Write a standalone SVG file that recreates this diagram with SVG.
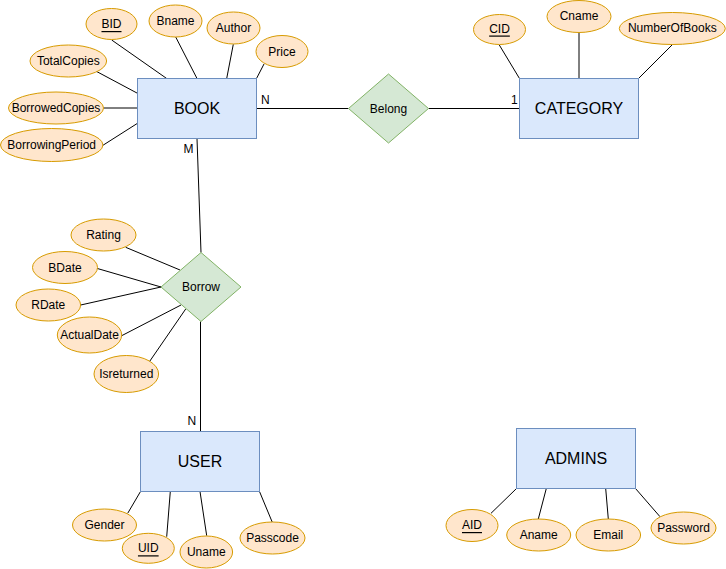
<svg xmlns="http://www.w3.org/2000/svg" width="726" height="569" viewBox="0 0 726 569">
<style>
.ent{fill:#dae8fc;stroke:#6c8ebf;stroke-width:1}
.att{fill:#ffe6cc;stroke:#d79b00;stroke-width:1}
.rel{fill:#d5e8d4;stroke:#82b366;stroke-width:1}
.t{font-family:"Liberation Sans",Arial,sans-serif;font-size:12px;fill:#000;text-anchor:middle;dominant-baseline:central}
.big{font-size:16px}
.u{text-decoration:underline}
.lbl{font-family:"Liberation Sans",Arial,sans-serif;font-size:12px;fill:#000}
#connectors line{stroke:#000;stroke-width:1}
</style>
<rect width="726" height="569" fill="#fff"/>
<g id="connectors">
<line x1="111.7" y1="40" x2="166.7" y2="78.5"/>
<line x1="175.7" y1="37" x2="197" y2="78.5"/>
<line x1="233.3" y1="44.3" x2="226.7" y2="78.5"/>
<line x1="264" y1="64" x2="256.5" y2="78.5"/>
<line x1="95.7" y1="71" x2="137.5" y2="93.3"/>
<line x1="103.5" y1="108" x2="137.5" y2="108"/>
<line x1="102.3" y1="145.7" x2="137.5" y2="123.3"/>
<line x1="256.5" y1="108.5" x2="348.5" y2="108.5"/>
<line x1="428.5" y1="108.5" x2="519.5" y2="108.5"/>
<line x1="499.3" y1="45" x2="519.5" y2="78.5"/>
<line x1="579" y1="32.5" x2="579" y2="78.5"/>
<line x1="672.7" y1="44.3" x2="638.5" y2="78.5"/>
<line x1="197" y1="138.5" x2="201" y2="252.5"/>
<line x1="125.7" y1="247.3" x2="180" y2="270"/>
<line x1="96.7" y1="268.3" x2="161" y2="287"/>
<line x1="80.7" y1="305" x2="161" y2="287"/>
<line x1="121.7" y1="335.7" x2="181" y2="305"/>
<line x1="149" y1="362.3" x2="185.7" y2="309"/>
<line x1="200.5" y1="321.5" x2="200.5" y2="431.5"/>
<line x1="127.7" y1="513.3" x2="140.5" y2="491.5"/>
<line x1="166.7" y1="536.7" x2="170.3" y2="491.5"/>
<line x1="206.7" y1="535.7" x2="200" y2="491.5"/>
<line x1="272.3" y1="522.3" x2="259.5" y2="491.5"/>
<line x1="491" y1="513.3" x2="516.5" y2="488.5"/>
<line x1="538.3" y1="519" x2="546.3" y2="488.5"/>
<line x1="608.3" y1="519" x2="605.7" y2="488.5"/>
<line x1="660" y1="516.7" x2="635.5" y2="488.5"/>
<text class="lbl" x="261" y="103.5">N</text>
<text class="lbl" x="183.5" y="152.5">M</text>
<text class="lbl" x="511" y="103.5">1</text>
<text class="lbl" x="187.5" y="425">N</text>
</g>
<g id="book"><rect class="ent" x="137.5" y="78.5" width="119" height="60"/><text class="t big" x="197" y="108.5">BOOK</text></g>
<g id="category"><rect class="ent" x="519.5" y="78.5" width="119" height="60"/><text class="t big" x="579" y="108.5">CATEGORY</text></g>
<g id="user"><rect class="ent" x="140.5" y="431.5" width="119" height="60"/><text class="t big" x="200" y="461.5">USER</text></g>
<g id="admins"><rect class="ent" x="516.5" y="428.5" width="119" height="60"/><text class="t big" x="576" y="458.5">ADMINS</text></g>
<g id="belong"><polygon class="rel" points="388.5,74 428.5,108.5 388.5,143 348.5,108.5"/><text class="t" x="388.5" y="108.5">Belong</text></g>
<g id="borrow"><polygon class="rel" points="201,252.5 241,287 201,321.5 161,287"/><text class="t" x="201" y="287">Borrow</text></g>
<g id="bid"><ellipse class="att" cx="111.5" cy="24" rx="25.5" ry="15.5"/><text class="t u" x="111.5" y="24">BID</text></g>
<g id="bname"><ellipse class="att" cx="175.5" cy="21" rx="26.5" ry="16"/><text class="t" x="175.5" y="21">Bname</text></g>
<g id="author"><ellipse class="att" cx="233.5" cy="28" rx="26.5" ry="16"/><text class="t" x="233.5" y="28">Author</text></g>
<g id="price"><ellipse class="att" cx="282" cy="51.5" rx="26" ry="16"/><text class="t" x="282" y="51.5">Price</text></g>
<g id="totalcopies"><ellipse class="att" cx="68.3" cy="61" rx="38.3" ry="16"/><text class="t" x="68.3" y="61">TotalCopies</text></g>
<g id="borrowedcopies"><ellipse class="att" cx="56" cy="108" rx="47.5" ry="16"/><text class="t" x="56" y="108">BorrowedCopies</text></g>
<g id="borrowingperiod"><ellipse class="att" cx="51.7" cy="145" rx="51.2" ry="16.5"/><text class="t" x="51.7" y="145">BorrowingPeriod</text></g>
<g id="cid"><ellipse class="att" cx="499.5" cy="29.5" rx="26" ry="15"/><text class="t u" x="499.5" y="28.5">CID</text></g>
<g id="cname"><ellipse class="att" cx="579" cy="16.5" rx="32" ry="16"/><text class="t" x="579" y="16">Cname</text></g>
<g id="numberofbooks"><ellipse class="att" cx="672.3" cy="28.5" rx="53" ry="16"/><text class="t" x="672.3" y="28">NumberOfBooks</text></g>
<g id="rating"><ellipse class="att" cx="103.5" cy="235" rx="32.5" ry="16"/><text class="t" x="103.5" y="235">Rating</text></g>
<g id="bdate"><ellipse class="att" cx="65" cy="267.5" rx="32.5" ry="16"/><text class="t" x="65" y="267.5">BDate</text></g>
<g id="rdate"><ellipse class="att" cx="48.3" cy="305" rx="32.3" ry="16"/><text class="t" x="48.3" y="305">RDate</text></g>
<g id="actualdate"><ellipse class="att" cx="89.5" cy="335" rx="32.2" ry="18"/><text class="t" x="89.5" y="335">ActualDate</text></g>
<g id="isreturned"><ellipse class="att" cx="126.3" cy="374" rx="32.3" ry="18.5"/><text class="t" x="126.3" y="374">Isreturned</text></g>
<g id="gender"><ellipse class="att" cx="104.5" cy="525" rx="32" ry="16"/><text class="t" x="104.5" y="525">Gender</text></g>
<g id="uid"><ellipse class="att" cx="148.3" cy="548.3" rx="26" ry="15"/><text class="t u" x="148.3" y="548.3">UID</text></g>
<g id="uname"><ellipse class="att" cx="206.3" cy="552" rx="26.3" ry="16"/><text class="t" x="206.3" y="552">Uname</text></g>
<g id="passcode"><ellipse class="att" cx="272.5" cy="538" rx="32.5" ry="16"/><text class="t" x="272.5" y="538">Passcode</text></g>
<g id="aid"><ellipse class="att" cx="472" cy="525.5" rx="26" ry="16"/><text class="t u" x="472" y="525">AID</text></g>
<g id="aname"><ellipse class="att" cx="538.7" cy="535" rx="32" ry="16"/><text class="t" x="538.7" y="535">Aname</text></g>
<g id="email"><ellipse class="att" cx="608.3" cy="535" rx="32.3" ry="16"/><text class="t" x="608.3" y="535">Email</text></g>
<g id="password"><ellipse class="att" cx="683.5" cy="528" rx="32.5" ry="16"/><text class="t" x="683.5" y="528">Password</text></g>
</svg>
